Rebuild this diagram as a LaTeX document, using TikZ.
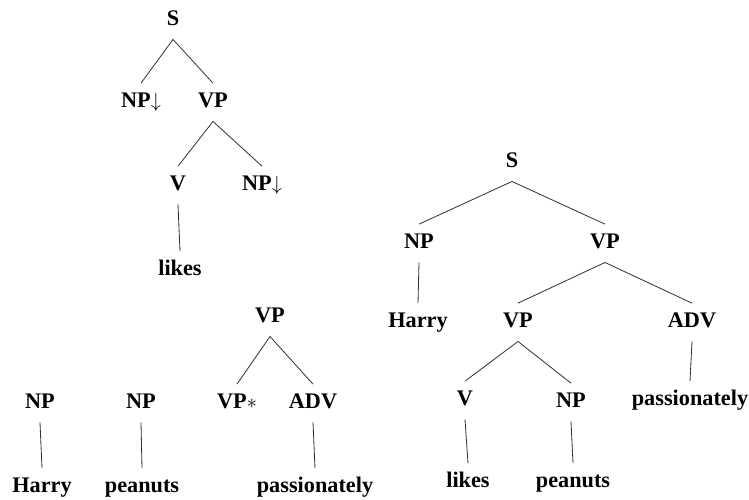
\documentclass[tikz,border=0pt]{standalone}
\usepackage{fontspec}
\setmainfont{Liberation Serif}
\usetikzlibrary{positioning}

\begin{document}
\begin{tikzpicture}[x=0.03cm, y=-0.03cm, line width=0.7pt, draw=black!80,
		every node/.style={anchor=base, font=\fontsize{19}{21}\selectfont\bfseries,
			text height=12pt, text depth=4pt, inner xsep=0pt, inner ysep=8pt}]
			\useasboundingbox (0,0) rectangle (749,500);

			% elementary tree for likes
			\node (0) at (173,25) {S};
			\node (1) at (141,107) {NP$\downarrow$};
			\node (2) at (213,107) {VP};
			\node (3) at (178,190) {V};
			\node (4) at (262,190) {NP$\downarrow$};
			\node (5) at (180,275) {likes};

			% initial trees and auxiliary tree
			\node (6) at (40,408) {NP};
			\node (7) at (42,492) {Harry};
			\node (8) at (141,408) {NP};
			\node (9) at (142,492) {peanuts};
			\node (10) at (270,322) {VP};
			\node (11) at (237,408) {VP$\ast$};
			\node (12) at (313,408) {ADV};
			\node (13) at (315,492) {passionately};

			% derived tree
			\node (14) at (512,167) {S};
			\node (15) at (419,248) {NP};
			\node (16) at (605,248) {VP};
			\node (17) at (418,327) {Harry};
			\node (18) at (518,327) {VP};
			\node (19) at (692,327) {ADV};
			\node (20) at (465,405) {V};
			\node (21) at (571,407) {NP};
			\node (22) at (468,487) {likes};
			\node (23) at (573,487) {peanuts};
			\node (24) at (690,405) {passionately};

			\draw (0.south) edge (1.north)
			(0.south) edge (2.north)
			(2.south) edge (3.north)
			(2.south) edge (4.north)
			(3.south) edge (5.north)
			(6.south) edge (7.north)
			(8.south) edge (9.north)
			(10.south) edge (11.north)
			(10.south) edge (12.north)
			(12.south) edge (13.north)
			(14.south) edge (15.north)
			(14.south) edge (16.north)
			(15.south) edge (17.north)
			(16.south) edge (18.north)
			(16.south) edge (19.north)
			(18.south) edge (20.north)
			(18.south) edge (21.north)
			(19.south) edge (24.north)
			(20.south) edge (22.north)
			(21.south) edge (23.north);

		\end{tikzpicture}
\end{document}
